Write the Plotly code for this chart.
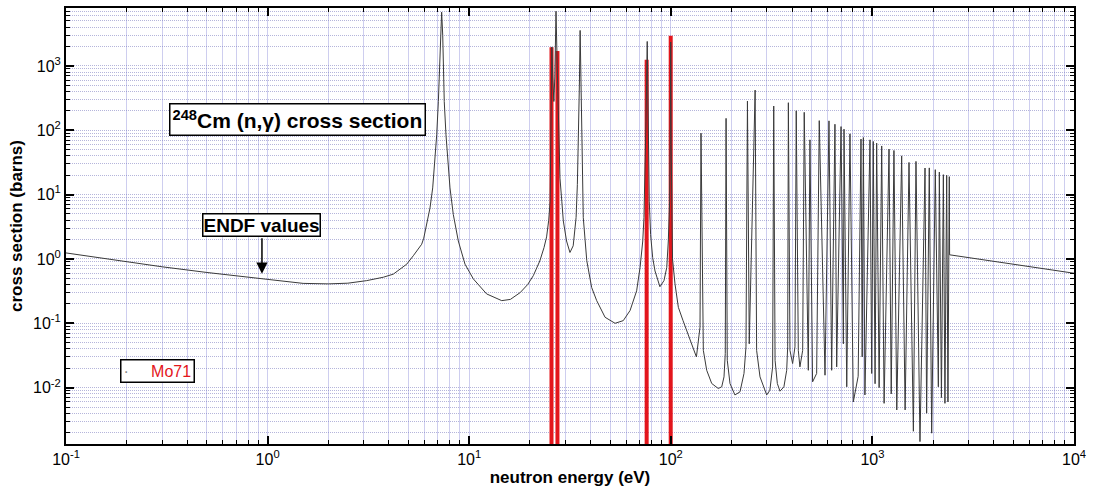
import plotly.graph_objects as go

# ---------------- data ----------------
# smooth / broad-resonance part of the ENDF capture cross section (eV, barns)
low_E = [0.1, 0.2, 0.3, 0.5, 0.7, 1.0, 1.5, 2.0, 2.5, 3.1, 3.75, 4.2, 4.54, 4.9, 5.28, 5.59,
         5.81, 5.95, 6.15, 6.39, 6.59, 6.77, 6.90, 7.03, 7.11, 7.19, 7.30, 7.39, 7.44, 7.52,
         7.67, 7.82, 8.03, 8.34, 8.83, 9.53, 10.48, 12.2, 14.5, 16.0, 17.9, 19.5, 20.8, 22.4,
         23.5, 24.2, 24.8, 25.2, 25.45, 25.6, 25.7, 26.0, 26.3, 26.6, 26.95, 27.3, 27.7, 28.2,
         28.8, 29.3, 30.4, 31.6, 32.8, 33.9, 34.4, 34.9, 35.2, 35.5, 35.9, 36.3, 36.8, 38.3,
         40.5, 42.9, 47.2, 52.9, 58.1, 62.8, 67.7, 70.4, 72.6, 73.6, 74.7, 75.3, 75.8, 76.4,
         76.9, 77.5, 78.2, 79.4, 81.3, 83.5, 88.3, 92.5, 95.5, 97.2, 98.7, 99.3, 99.9, 100.4,
         101.0, 102.0, 104.9, 109, 115, 124.5, 134, 139.6]
low_sigma = [1.24, 0.90, 0.755, 0.616, 0.55, 0.475, 0.417, 0.41, 0.42, 0.46, 0.52, 0.58, 0.695, 0.83, 1.12, 1.42,
             1.69, 2.1, 3.3, 6.2, 12.7, 32.8, 85, 278, 908, 2980, 6840, 2980, 908, 278,
             85, 32.8, 12.7, 4.9, 1.9, 0.83, 0.49, 0.286, 0.225, 0.235, 0.30, 0.40, 0.55, 0.93,
             1.5, 2.2, 4.0, 7.9, 60, 400, 1970, 600, 280, 700, 7080, 1150, 180, 18,
             7.9, 3.9, 1.9, 1.26, 1.6, 4.4, 14.3, 85, 503, 3560, 278, 25.9, 4.4, 0.94,
             0.36, 0.225, 0.124, 0.10, 0.11, 0.158, 0.32, 0.74, 1.9, 4.4, 25.9, 136, 500, 2400,
             500, 60, 7.9, 2.4, 1.05, 0.65, 0.37, 0.46, 0.74, 1.9, 7.9, 60, 2350, 60,
             2.42, 1.0, 0.41, 0.177, 0.11, 0.054, 0.030, 0.087]

# narrow resonances (peak energy in eV, peak value in barns)
res_E = [141.2, 188, 240, 262, 324, 383, 419, 459, 490, 545, 609, 652, 699, 723, 774, 878,
         902, 973, 1010, 1050, 1112, 1209, 1279, 1397, 1519, 1645, 1824, 1915, 2051, 2148,
         2249, 2336, 2407]
res_peak = [90, 153, 284, 421, 238, 268, 201, 190, 71, 141, 140, 124, 114, 104, 88, 73,
            77, 71, 67, 63, 57, 51, 48.5, 40, 31.6, 32.8, 25.9, 26, 24.4, 22.4,
            20.4, 20, 19]

# valleys and spike feet between the narrow resonances
valley_E = [145, 150.7, 159.6, 172, 178.9, 183.6, 186.3, 190.6, 196.6, 208, 220.4, 230.7,
            236, 245, 266.5, 277, 299, 310, 320, 329, 337.6, 348, 364, 375.7, 380, 390, 402,
            413, 429, 437, 451, 481, 505, 529, 582, 628, 665, 718, 746, 804, 850, 890, 918,
            992, 1031, 1080, 1143, 1240, 1321, 1453, 1597, 1722, 1858, 1968, 2124, 2200,
            2290, 2370]
valley_sigma = [0.038, 0.0186, 0.0116, 0.0097, 0.0103, 0.0147, 0.034, 0.0266, 0.0116, 0.0077,
                0.0086, 0.0166, 0.043, 0.048, 0.038, 0.0147, 0.0077, 0.0091, 0.021, 0.0266,
                0.0116, 0.0088, 0.0103, 0.0186, 0.043, 0.038, 0.0237, 0.043, 0.038, 0.021,
                0.038, 0.0186, 0.0123, 0.0166, 0.0156, 0.0186, 0.021, 0.048, 0.0103, 0.006,
                0.015, 0.03, 0.0077, 0.0166, 0.0115, 0.01, 0.0057, 0.008, 0.0045, 0.0045,
                0.0021, 0.00145, 0.004, 0.00196, 0.0103, 0.007, 0.0057, 0.006]

# unresolved region above the last resolved resonance
tail_E = [2415, 10000]
tail_sigma = [1.16, 0.60]

# Mo71 resonance energies (eV) and top of their markers (barns)
mo71_E = [25.6, 27.4, 75.9, 99.9]
mo71_top = [1950, 1700, 1250, 2950]
MO71_FLOOR = 1e-3

x_major = [0.1, 1, 10, 100, 1000, 10000]
x_labels = ["10<sup>-1</sup>", "10<sup>0</sup>", "10<sup>1</sup>", "10<sup>2</sup>",
            "10<sup>3</sup>", "10<sup>4</sup>"]
y_major = [0.01, 0.1, 1, 10, 100, 1000]
y_labels = ["10<sup>-2</sup>", "10<sup>-1</sup>", "10<sup>0</sup>", "10<sup>1</sup>",
            "10<sup>2</sup>", "10<sup>3</sup>"]

# ---------------- figure ----------------
pts = sorted(list(zip(low_E, low_sigma)) + list(zip(res_E, res_peak)) +
             list(zip(valley_E, valley_sigma)) + list(zip(tail_E, tail_sigma)))
curve_E = [p[0] for p in pts]
curve_sigma = [p[1] for p in pts]

seg_x, seg_y = [], []
for e, t in zip(mo71_E, mo71_top):
    seg_x += [e, e, None]
    seg_y += [MO71_FLOOR, t, None]

x_minor = [m * 10.0 ** k for k in range(-1, 4) for m in range(2, 10)]
y_minor = [m * 10.0 ** k for k in range(-3, 4) for m in range(2, 10)]

FONT = "Liberation Sans, Arial, Helvetica, sans-serif"
GRID_X = "rgba(165,165,225,0.55)"
GRID_Y = "rgba(120,120,190,0.55)"

fig = go.Figure()
fig.add_trace(go.Scatter(x=seg_x, y=seg_y, mode="lines",
                         line=dict(color="#e3161c", width=4),
                         showlegend=False, hoverinfo="skip"))
fig.add_trace(go.Scatter(x=curve_E, y=curve_sigma, mode="lines",
                         line=dict(color="#3a3a3a", width=1),
                         showlegend=False))

common = dict(type="log", showline=True, linecolor="black", linewidth=2,
              mirror="allticks", ticks="inside", ticklen=8, tickwidth=1.5,
              tickcolor="black", tickmode="array",
              tickfont=dict(family=FONT, size=16, color="black"),
              showgrid=True, zeroline=False)

fig.update_xaxes(**common, range=[-1, 4], tickvals=x_major, ticktext=x_labels,
                 gridcolor=GRID_X, gridwidth=1,
                 title=dict(text="<b>neutron energy (eV)</b>",
                            font=dict(family=FONT, size=17, color="black"), standoff=4),
                 minor=dict(tickmode="array", tickvals=x_minor, ticks="inside", ticklen=4,
                            tickwidth=1, tickcolor="black", showgrid=True,
                            gridcolor=GRID_X, gridwidth=1))
fig.update_yaxes(**common, range=[-2.876, 3.9], tickvals=y_major, ticktext=y_labels,
                 gridcolor=GRID_Y, gridwidth=1, griddash="1px,1px",
                 title=dict(text="<b>cross section (barns)</b>",
                            font=dict(family=FONT, size=17, color="black"), standoff=6),
                 minor=dict(tickmode="array", tickvals=y_minor, ticks="inside", ticklen=4,
                            tickwidth=1, tickcolor="black", showgrid=True,
                            gridcolor=GRID_Y, gridwidth=1, griddash="1px,1px"))

fig.add_annotation(xref="paper", yref="paper", x=0.2292, y=0.7443,
                   xanchor="center", yanchor="middle",
                   text="<b><sup>248</sup>Cm (n,γ) cross section</b>", showarrow=False,
                   font=dict(family=FONT, size=21, color="black"),
                   bgcolor="white", bordercolor="black", borderwidth=1.5, borderpad=2)
fig.add_annotation(xref="paper", yref="paper", x=0.1935, y=0.5034,
                   xanchor="center", yanchor="middle",
                   text="<b>ENDF values</b>", showarrow=False,
                   font=dict(family=FONT, size=19, color="black"),
                   bgcolor="white", bordercolor="black", borderwidth=1.5, borderpad=0)
fig.add_annotation(xref="paper", yref="paper", x=0.1944, y=0.3904, text="",
                   showarrow=True, ax=0, ay=-37, arrowhead=2, arrowsize=1.5,
                   arrowwidth=1.5, arrowcolor="black", standoff=0)
fig.add_annotation(xref="paper", yref="paper", x=0.0903, y=0.1667,
                   xanchor="center", yanchor="middle",
                   text="<span style='color:#888888'>·</span>&nbsp;&nbsp;&nbsp;&nbsp;&nbsp;"
                        "<span style='color:#e3161c'>Mo71</span>",
                   showarrow=False, font=dict(family=FONT, size=16),
                   bgcolor="white", bordercolor="black", borderwidth=1.5, borderpad=2)

fig.update_layout(width=1093, height=497, margin=dict(l=66, r=19, t=6, b=53),
                  plot_bgcolor="white", paper_bgcolor="white", showlegend=False)

fig.write_html("out.html")
